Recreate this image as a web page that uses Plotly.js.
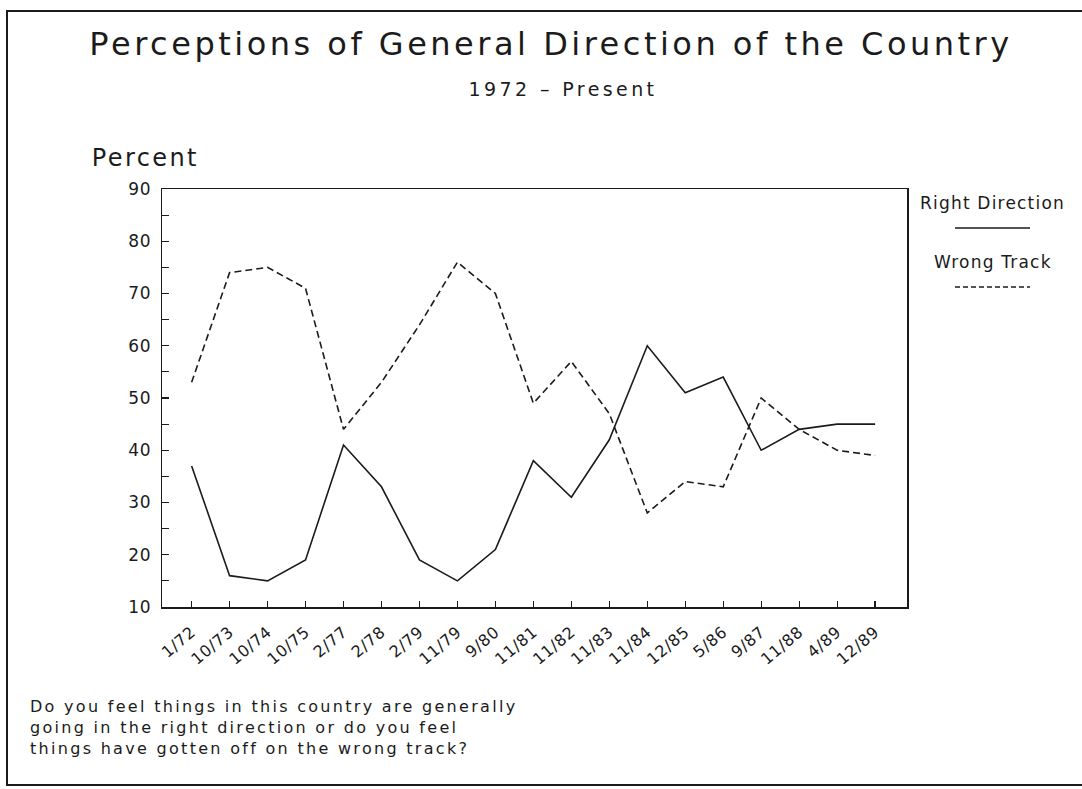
<!DOCTYPE html>
<html>
<head>
<meta charset="utf-8">
<script src="https://cdn.plot.ly/plotly-3.0.1.min.js"></script>
<style>
  body { margin: 0; background: #fff; }
  #chart { width: 1082px; height: 789px; }
  /* the old plotter font is wide, spread the letters a bit */
  .gtitle { letter-spacing: 3.5px; }
  .annotation-text { letter-spacing: 1.2px; }
  .annotation[data-index="0"] .annotation-text { letter-spacing: 3.4px; }
  .annotation[data-index="1"] .annotation-text { letter-spacing: 2.4px; }
  .annotation[data-index="4"] .annotation-text { letter-spacing: 2.3px; }
  .xtick text, .ytick text { letter-spacing: 0.6px; }
</style>
</head>
<body>
<div id="chart"></div>
<script>
// Sondages : "Right Direction" / "Wrong Track"
const surveyDates = ["1/72", "10/73", "10/74", "10/75", "2/77", "2/78", "2/79", "11/79", "9/80",
  "11/81", "11/82", "11/83", "11/84", "12/85", "5/86", "9/87", "11/88", "4/89", "12/89"];
const rightDirection = [37, 16, 15, 19, 41, 33, 19, 15, 21, 38, 31, 42, 60, 51, 54, 40, 44, 45, 45];
const wrongTrack = [53, 74, 75, 71, 44, 53, 64, 76, 70, 49, 57, 47, 28, 34, 33, 50, 44, 40, 39];
const percentTicks = [10, 20, 30, 40, 50, 60, 70, 80, 90];

// position du cadre du graphique (pixels)
const plotLeft = 162, plotRight = 907, plotTop = 189, plotBottom = 607;
const px = (x) => (x - plotLeft) / (plotRight - plotLeft);
const py = (y) => (plotBottom - y) / (plotBottom - plotTop);

const ink = "#1b1b1b";
const fontFamily = "DejaVu Sans, sans-serif";

var trace1 = {
  x: surveyDates,
  y: rightDirection,
  mode: "lines",
  name: "Right Direction",
  line: { color: ink, width: 1.6 },
};

var trace2 = {
  x: surveyDates,
  y: wrongTrack,
  mode: "lines",
  name: "Wrong Track",
  line: { color: ink, width: 1.6, dash: "7px,4px" },
};

var layout = {
  width: 1082,
  height: 789,
  margin: { l: plotLeft, r: 1082 - plotRight, t: plotTop, b: 789 - plotBottom, pad: 0 },
  paper_bgcolor: "#ffffff",
  plot_bgcolor: "#ffffff",
  showlegend: false,
  font: { family: fontFamily, color: ink },
  title: {
    text: "Perceptions of General Direction of the Country",
    font: { size: 32, color: ink },
    xref: "container",
    x: 551 / 1082,
    xanchor: "center",
    yref: "container",
    y: 1 - 44 / 789,
    yanchor: "middle",
  },
  xaxis: {
    type: "category",
    range: [-0.78, 18.84],
    showgrid: false,
    zeroline: false,
    showline: true,
    mirror: true,
    linecolor: ink,
    linewidth: 1.5,
    ticks: "inside",
    ticklen: 6,
    tickwidth: 1.2,
    tickcolor: ink,
    tickangle: -40,
    ticklabelstandoff: 8,
    tickfont: { size: 16, color: ink },
    fixedrange: true,
  },
  yaxis: {
    range: [10, 90],
    tickmode: "array",
    tickvals: percentTicks,
    ticktext: percentTicks.map(String),
    showgrid: false,
    zeroline: false,
    showline: true,
    mirror: true,
    linecolor: ink,
    linewidth: 1.5,
    ticks: "inside",
    ticklen: 7,
    tickwidth: 1.2,
    tickcolor: ink,
    minor: { tickmode: "linear", tick0: 10, dtick: 5, ticks: "inside", ticklen: 7, tickwidth: 1.2, tickcolor: ink, showgrid: false },
    ticklabelstandoff: 6,
    tickfont: { size: 17, color: ink },
    fixedrange: true,
  },
  annotations: [
    {
      text: "1972 – Present",
      xref: "paper", yref: "paper",
      x: px(563), y: py(89),
      xanchor: "center", yanchor: "middle",
      showarrow: false,
      font: { size: 19 },
    },
    {
      text: "Percent",
      xref: "paper", yref: "paper",
      x: px(94), y: py(158),
      xanchor: "left", yanchor: "middle",
      showarrow: false,
      font: { size: 24 },
    },
    {
      text: "Right Direction",
      xref: "paper", yref: "paper",
      x: px(993), y: py(203),
      xanchor: "center", yanchor: "middle",
      showarrow: false,
      font: { size: 17 },
    },
    {
      text: "Wrong Track",
      xref: "paper", yref: "paper",
      x: px(993), y: py(262),
      xanchor: "center", yanchor: "middle",
      showarrow: false,
      font: { size: 17 },
    },
    {
      text: "Do you feel things in this country are generally<br>going in the right direction or do you feel<br>things have gotten off on the wrong track?",
      xref: "paper", yref: "paper",
      x: px(28), y: py(695),
      xanchor: "left", yanchor: "top",
      align: "left",
      showarrow: false,
      font: { size: 16 },
    },
  ],
  shapes: [
    // échantillons de la légende
    { type: "line", xref: "paper", yref: "paper", x0: px(955), x1: px(1030), y0: py(228), y1: py(228), line: { color: ink, width: 1.6 } },
    { type: "line", xref: "paper", yref: "paper", x0: px(955), x1: px(1030), y0: py(287), y1: py(287), line: { color: ink, width: 1.6, dash: "5px,3px" } },
    // cadre extérieur
    { type: "rect", xref: "paper", yref: "paper", x0: px(7), x1: px(1095), y0: py(785), y1: py(11), line: { color: ink, width: 2 } },
  ],
};

var config = {
  displayModeBar: false, // pas de barre d'outils
  staticPlot: true,
};

Plotly.newPlot(document.getElementById("chart"), [trace1, trace2], layout, config);
</script>
</body>
</html>
